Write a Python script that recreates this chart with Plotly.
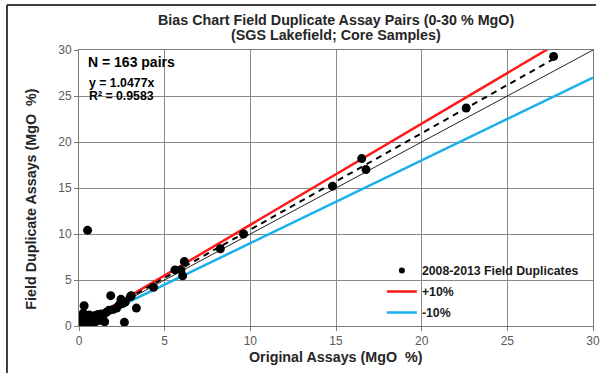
import plotly.graph_objects as go

# Original vs field duplicate MgO assays (%)
orig_mgo = [27.7, 22.6, 16.5, 16.75, 14.8, 9.6, 8.25, 6.15, 5.6, 5.95, 6.05, 4.35,
            3.35, 3.05, 2.65, 2.45, 2.55, 2.35, 2.2, 1.85, 1.75, 1.5, 1.4, 1.3,
            1.0, 1.0, 0.8, 0.6, 0.35, 0.25, 0.3, 0.5, 0.7, 0.5, 0.2, 0.1,
            0.15, 0.4, 0.9, 1.15, 1.2, 0.6, 0.45, 0.3, 0.05, 0.7, 0.85, 1.6,
            2.0, 0.2, 0.55, 0.75, 0.1, 3.0, 2.7, 1.1, 0.95, 0.4, 0.25, 0.65]
dup_mgo = [29.3, 23.7, 18.2, 17.0, 15.2, 10.0, 8.4, 7.0, 6.1, 6.1, 5.45, 4.2,
           1.95, 3.3, 0.4, 2.9, 2.45, 2.3, 1.95, 3.3, 1.7, 0.45, 1.1, 1.3,
           1.0, 0.8, 0.1, 0.85, 0.3, 1.4, 2.2, 10.4, 0.5, 0.6, 0.5, 0.2,
           0.8, 1.0, 0.4, 0.6, 0.9, 1.2, 0.15, 0.05, 0.05, 0.2, 0.7, 1.5,
           1.8, 0.3, 0.4, 1.05, 0.55, 3.2, 2.6, 1.25, 1.15, 0.7, 0.95, 0.3]

# Reference lines: fitted slope, +/-10 % bounds and 1:1
fit_slope = 1.0477
r_squared = 0.9583
n_pairs = 163
upper_slope = 1.10
lower_slope = 0.90
axis_max = 30
tick_vals = [0, 5, 10, 15, 20, 25, 30]

title_lines = ["Bias Chart Field Duplicate Assay Pairs (0-30 % MgO)",
               "(SGS Lakefield; Core Samples)"]
x_title = "Original Assays (MgO  %)"
y_title = "Field Duplicate Assays (MgO  %)"
dup_label = "2008-2013 Field Duplicates"

FONT = "Liberation Sans, Arial, sans-serif"
TXT = "#262626"

# plot area in pixels: left 79, top 50, width 521, height 276
PL, PT, PW, PH = 79, 50, 521, 276


def px_x(p):
    return (p - PL) / PW


def px_y(p):
    return (PT + PH - p) / PH


fig = go.Figure()

line_x = [0, axis_max]
fig.add_trace(go.Scatter(x=line_x, y=line_x, mode="lines",
                         line=dict(color="#222222", width=1), showlegend=False,
                         hoverinfo="skip"))
fig.add_trace(go.Scatter(x=line_x, y=[v * upper_slope for v in line_x], mode="lines",
                         name="<b>+10%</b>", line=dict(color="#ff1a1a", width=2.5),
                         legendrank=2, legendgroup="up"))
fig.add_trace(go.Scatter(x=line_x, y=[v * lower_slope for v in line_x], mode="lines",
                         name="<b>-10%</b>", line=dict(color="#1ab0ee", width=2.5),
                         legendrank=3, legendgroup="low"))
fit_x = [0, max(orig_mgo)]
fig.add_trace(go.Scatter(x=fit_x, y=[v * fit_slope for v in fit_x], mode="lines",
                         line=dict(color="black", width=2, dash="6px,5px"),
                         showlegend=False, hoverinfo="skip"))
fig.add_trace(go.Scatter(x=orig_mgo, y=dup_mgo, mode="markers",
                         name=f"<b>{dup_label}</b>", legendgroup="dup",
                         marker=dict(color="black", size=9), showlegend=False))
# legend entry with a smaller dot than the plotted points
fig.add_trace(go.Scatter(x=[None], y=[None], mode="markers",
                         name=f"<b>{dup_label}</b>", legendgroup="dup",
                         marker=dict(color="black", size=6), legendrank=1))

axis_common = dict(range=[0, axis_max], tickvals=tick_vals, showgrid=True,
                   gridcolor="#8a8a8a", gridwidth=1, zeroline=False,
                   showline=True, linecolor="#7a7a7a", linewidth=1, mirror=True,
                   ticks="outside", ticklen=4, tickcolor="#7a7a7a",
                   tickfont=dict(family=FONT, size=12, color="#595959"))
fig.update_xaxes(**axis_common)
fig.update_yaxes(**axis_common)

# Title lines
for text, yc in zip(title_lines, [20, 35]):
    fig.add_annotation(xref="paper", yref="paper", x=0.5, y=px_y(yc),
                       xanchor="center", yanchor="middle", showarrow=False,
                       text=f"<b>{text}</b>",
                       font=dict(family=FONT, size=14.3, color=TXT))

# Axis titles
fig.add_annotation(xref="paper", yref="paper", x=0.5, y=px_y(357),
                   xanchor="center", yanchor="middle", showarrow=False,
                   text=f"<b>{x_title}</b>",
                   font=dict(family=FONT, size=14.3, color=TXT))
fig.add_annotation(xref="paper", yref="paper", x=px_x(30), y=px_y(199),
                   xanchor="center", yanchor="middle", showarrow=False,
                   textangle=-90, text=f"<b>{y_title}</b>",
                   font=dict(family=FONT, size=14.3, color=TXT))

# Statistics box text
fig.add_annotation(xref="paper", yref="paper", x=px_x(86), y=px_y(62),
                   xanchor="left", yanchor="middle", showarrow=False,
                   text=f"<b>N = {n_pairs} pairs</b>",
                   font=dict(family=FONT, size=14, color="black"))
fig.add_annotation(xref="paper", yref="paper", x=px_x(87), y=px_y(83),
                   xanchor="left", yanchor="middle", showarrow=False,
                   text=f"<b>y = {fit_slope}x</b>",
                   font=dict(family=FONT, size=12.3, color="black"))
fig.add_annotation(xref="paper", yref="paper", x=px_x(87), y=px_y(96),
                   xanchor="left", yanchor="middle", showarrow=False,
                   text=f"<b>R² = {r_squared}</b>",
                   font=dict(family=FONT, size=12.3, color="black"))

# Outer frame (top and left edges)
fig.add_shape(type="line", xref="paper", yref="paper",
              x0=px_x(6), x1=px_x(603), y0=px_y(5), y1=px_y(5),
              line=dict(color="black", width=1.5))
fig.add_shape(type="line", xref="paper", yref="paper",
              x0=px_x(6), x1=px_x(6), y0=px_y(5), y1=px_y(380),
              line=dict(color="black", width=1.5))

fig.update_layout(
    width=608, height=373,
    margin=dict(l=PL, r=608 - PL - PW, t=PT, b=373 - PT - PH),
    paper_bgcolor="white", plot_bgcolor="white",
    font=dict(family=FONT),
    legend=dict(x=px_x(386), y=px_y(256), xanchor="left", yanchor="top",
                bgcolor="rgba(0,0,0,0)", itemwidth=30, tracegroupgap=2,
                font=dict(family=FONT, size=12.3, color="#1a1a1a"),
                traceorder="grouped"),
    showlegend=True,
)

fig.write_html("out.html")
